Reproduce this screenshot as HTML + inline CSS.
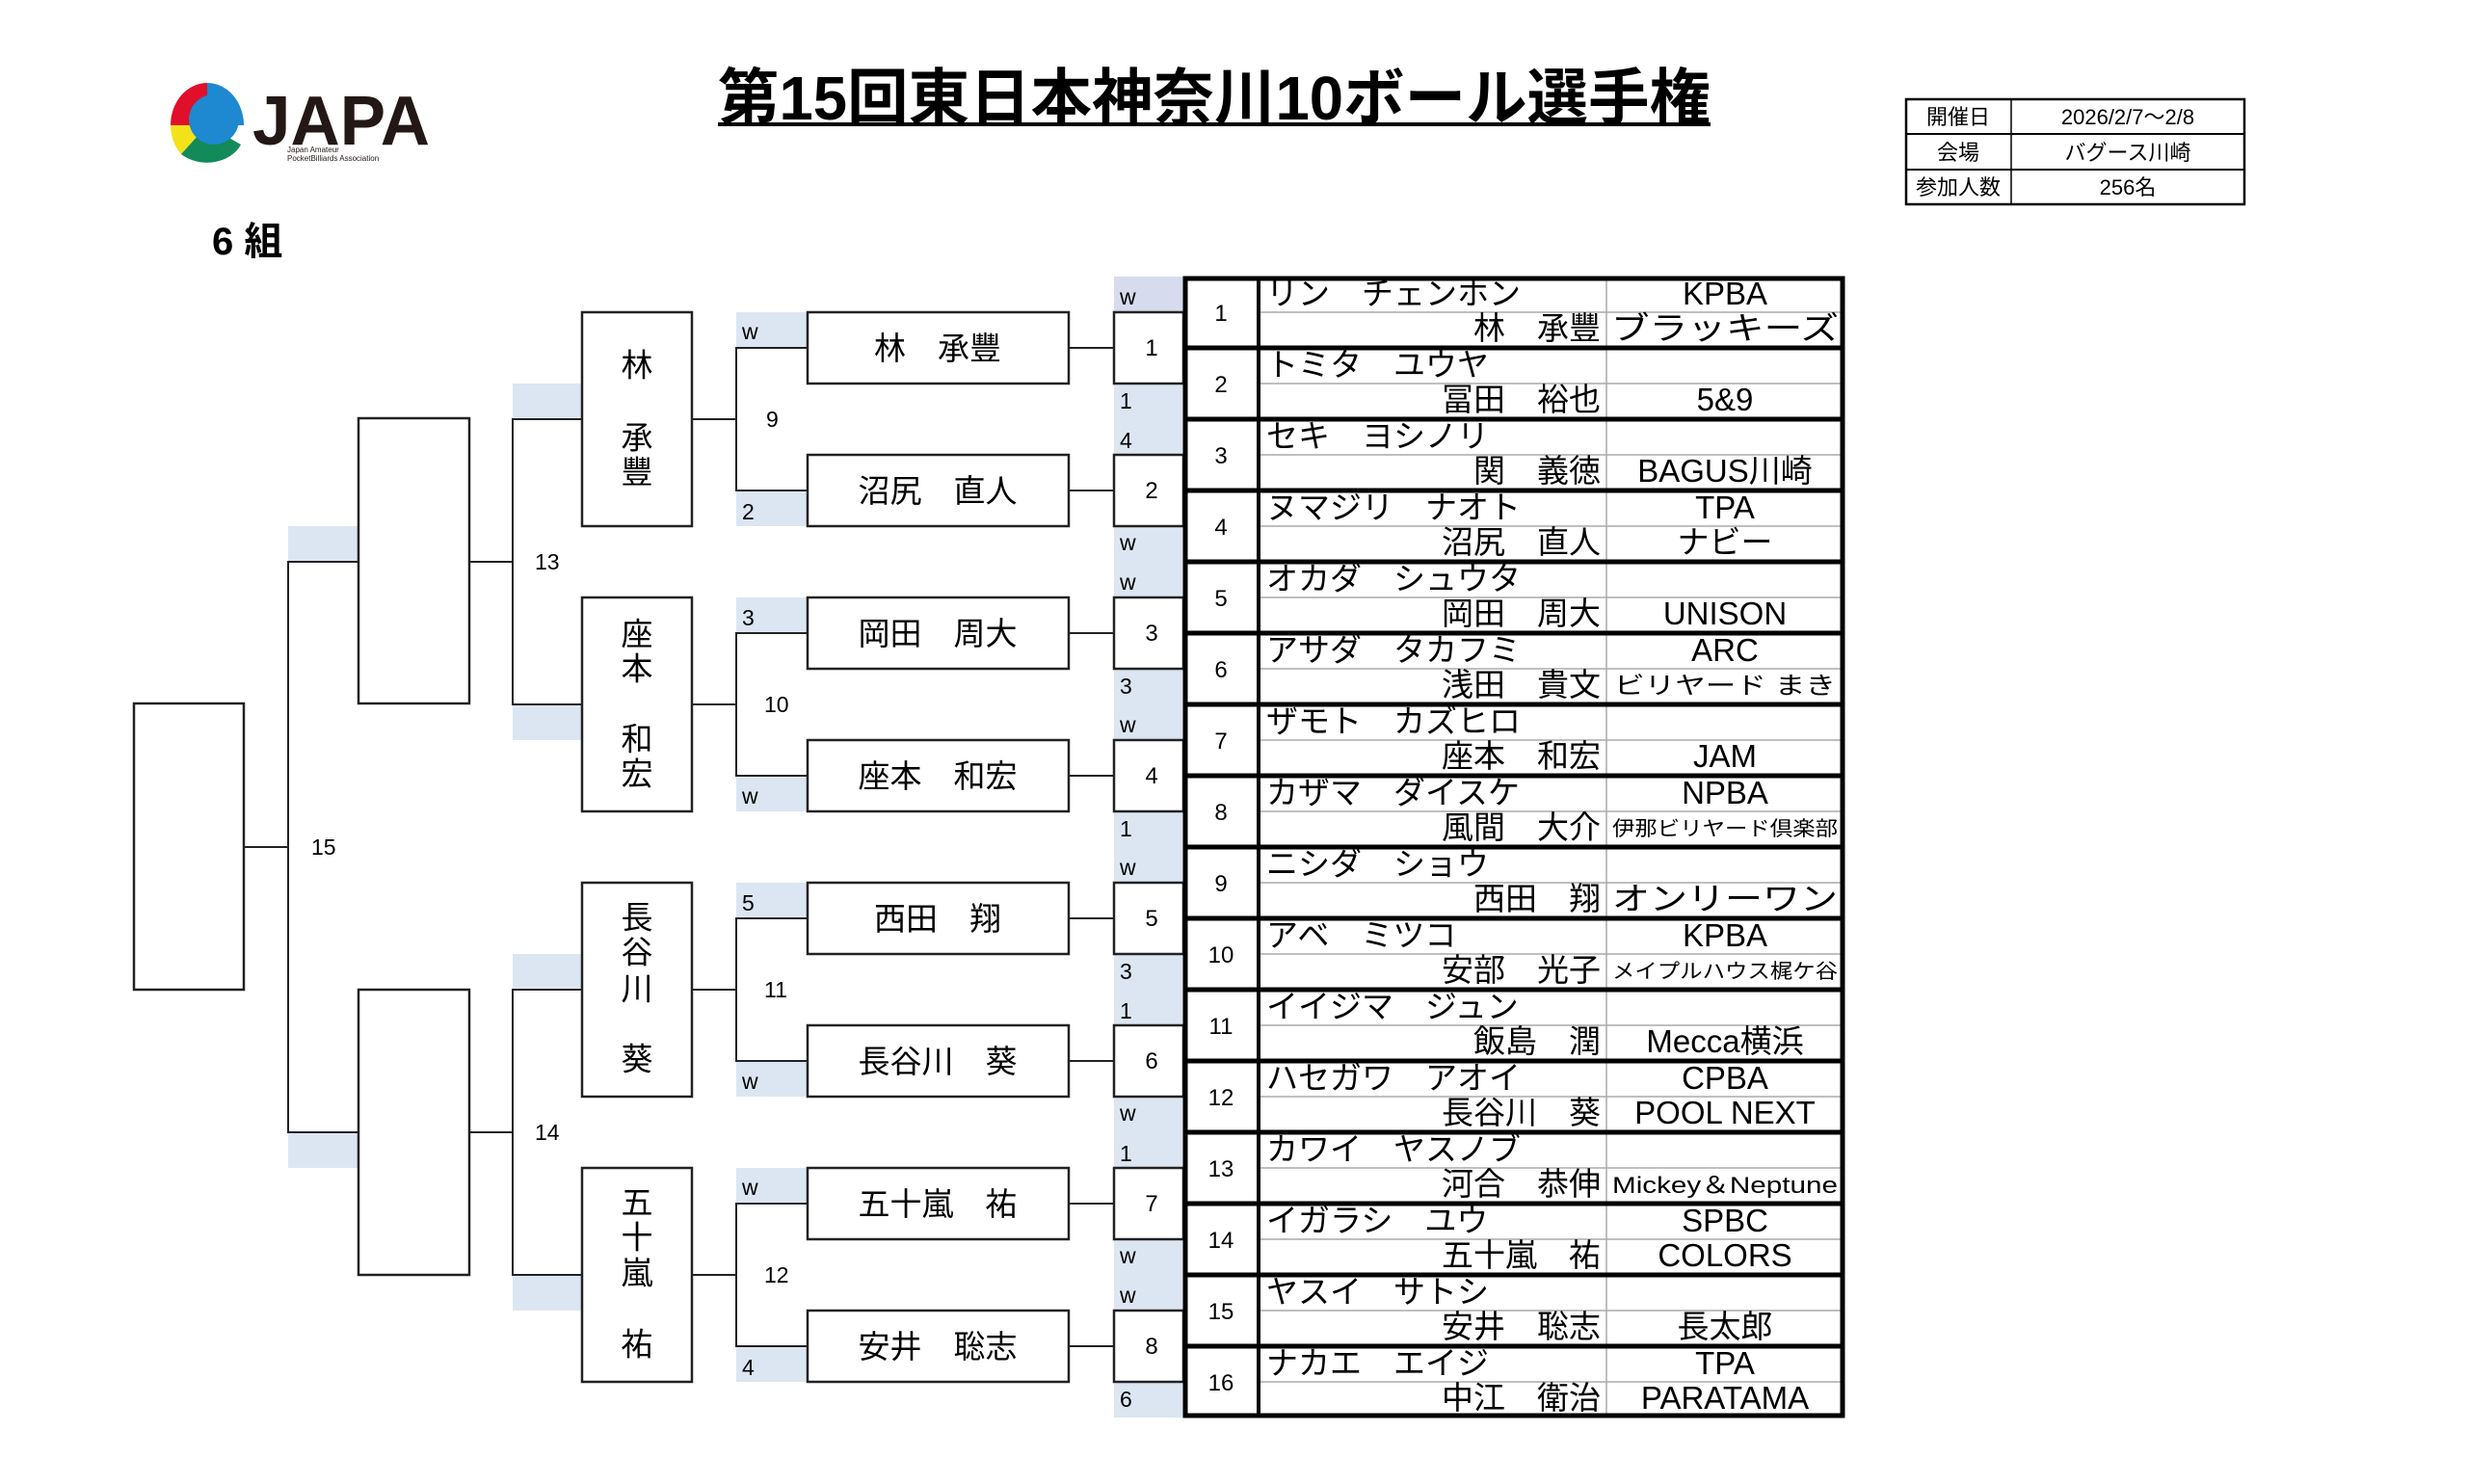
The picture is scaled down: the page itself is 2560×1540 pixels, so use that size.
<!DOCTYPE html>
<html><head><meta charset="utf-8"><style>
html,body{margin:0;padding:0;background:#fff;}
svg{display:block;font-family:"Liberation Sans","Noto Sans CJK JP",sans-serif;}
</style></head><body>
<svg width="2560" height="1540" viewBox="0 0 2560 1540" xmlns="http://www.w3.org/2000/svg">
<g>
<path d="M215,86 A38,44 0 0 1 253,130 L215,130 Z" fill="#1e88d0"/>
<path d="M215,86 A38,44 0 0 0 177,130 L215,130 Z" fill="#e0102a"/>
<path d="M177,130 A38,44 0 0 0 188,160 L215,130 Z" fill="#f2e21a"/>
<path d="M188,160 A38,30 0 0 0 250,150 L215,130 Z" fill="#138a5a"/>
<circle cx="222" cy="124" r="26" fill="#1e88d0"/>
<text x="262" y="150" font-size="72" font-weight="bold" fill="#231815" textLength="184" lengthAdjust="spacingAndGlyphs">JAPA</text>
<text x="298" y="158" font-size="8" fill="#231815">Japan Amateur</text>
<text x="298" y="167" font-size="8" fill="#231815">PocketBilliards Association</text>
</g>
<text x="745" y="124" font-size="64" font-weight="bold" textLength="1030" lengthAdjust="spacingAndGlyphs">第15回東日本神奈川10ボール選手権</text>
<rect x="745" y="127" width="1030" height="4" fill="#000"/>
<g stroke="#000" fill="none">
<rect x="1978" y="103" width="351" height="109" stroke-width="2.5"/>
<line x1="2087" y1="103" x2="2087" y2="212" stroke-width="1.5"/>
<line x1="1978" y1="139" x2="2329" y2="139" stroke-width="2"/>
<line x1="1978" y1="176" x2="2329" y2="176" stroke-width="2"/>
</g>
<g font-size="22" text-anchor="middle">
<text x="2032" y="129">開催日</text>
<text x="2208" y="129">2026/2/7～2/8</text>
<text x="2032" y="166">会場</text>
<text x="2208" y="166">バグース川崎</text>
<text x="2032" y="202">参加人数</text>
<text x="2208" y="202">256名</text>
</g>
<text x="220" y="264" font-size="40" font-weight="bold">6 組</text>

<rect x="1156" y="287" width="72" height="1184" fill="#dce6f2"/>
<rect x="1156" y="287" width="72" height="37" fill="#d6dcee"/>
<g fill="#dce6f2">
<rect x="764" y="324" width="74" height="37"/>
<rect x="764" y="509" width="74" height="37"/>
<rect x="764" y="620" width="74" height="37"/>
<rect x="764" y="805" width="74" height="37"/>
<rect x="764" y="916" width="74" height="37"/>
<rect x="764" y="1101" width="74" height="37"/>
<rect x="764" y="1212" width="74" height="37"/>
<rect x="764" y="1397" width="74" height="37"/>
<rect x="532" y="398" width="72" height="37"/>
<rect x="532" y="731" width="72" height="37"/>
<rect x="532" y="990" width="72" height="37"/>
<rect x="532" y="1323" width="72" height="37"/>
<rect x="299" y="546" width="73" height="37"/>
<rect x="299" y="1175" width="73" height="37"/>
</g>

<g stroke="#222" stroke-width="2.5" fill="#fff">
<rect x="1156" y="324" width="72" height="74"/>
<rect x="1156" y="472" width="72" height="74"/>
<rect x="1156" y="620" width="72" height="74"/>
<rect x="1156" y="768" width="72" height="74"/>
<rect x="1156" y="916" width="72" height="74"/>
<rect x="1156" y="1064" width="72" height="74"/>
<rect x="1156" y="1212" width="72" height="74"/>
<rect x="1156" y="1360" width="72" height="74"/>
<rect x="838" y="324" width="271" height="74"/>
<rect x="838" y="472" width="271" height="74"/>
<rect x="838" y="620" width="271" height="74"/>
<rect x="838" y="768" width="271" height="74"/>
<rect x="838" y="916" width="271" height="74"/>
<rect x="838" y="1064" width="271" height="74"/>
<rect x="838" y="1212" width="271" height="74"/>
<rect x="838" y="1360" width="271" height="74"/>
<rect x="604" y="324" width="114" height="222"/>
<rect x="604" y="620" width="114" height="222"/>
<rect x="604" y="916" width="114" height="222"/>
<rect x="604" y="1212" width="114" height="222"/>
<rect x="372" y="434" width="115" height="296"/>
<rect x="372" y="1027" width="115" height="296"/>
<rect x="139" y="730" width="114" height="297"/>
</g>
<g stroke="#222" stroke-width="2" fill="none">
<path d="M1109,361H1156M1109,509H1156M1109,657H1156M1109,805H1156M1109,953H1156M1109,1101H1156M1109,1249H1156M1109,1397H1156"/>
<path d="M838,361H764V509H838M764,435H718"/>
<path d="M838,657H764V805H838M764,731H718"/>
<path d="M838,953H764V1101H838M764,1027H718"/>
<path d="M838,1249H764V1397H838M764,1323H718"/>
<path d="M604,435H532V731H604M532,583H487"/>
<path d="M604,1027H532V1323H604M532,1175H487"/>
<path d="M372,583H299V1175H372M299,879H253"/>
</g>

<g font-size="23" fill="#000">
<text x="1162" y="316">w</text>
<text x="1162" y="424">1</text>
<text x="1162" y="465">4</text>
<text x="1162" y="571">w</text>
<text x="1162" y="612">w</text>
<text x="1162" y="720">3</text>
<text x="1162" y="760">w</text>
<text x="1162" y="868">1</text>
<text x="1162" y="908">w</text>
<text x="1162" y="1016">3</text>
<text x="1162" y="1057">1</text>
<text x="1162" y="1163">w</text>
<text x="1162" y="1205">1</text>
<text x="1162" y="1311">w</text>
<text x="1162" y="1352">w</text>
<text x="1162" y="1460">6</text>
<text x="770" y="352">w</text>
<text x="770" y="539">2</text>
<text x="770" y="649">3</text>
<text x="770" y="834">w</text>
<text x="770" y="945">5</text>
<text x="770" y="1130">w</text>
<text x="770" y="1240">w</text>
<text x="770" y="1427">4</text>
</g>
<g font-size="23" fill="#000">
<text x="795" y="443">9</text>
<text x="793" y="739">10</text>
<text x="793" y="1035">11</text>
<text x="793" y="1331">12</text>
<text x="555" y="591">13</text>
<text x="555" y="1183">14</text>
<text x="323" y="887">15</text>
</g>
<g font-size="24" text-anchor="middle">
<text x="1195" y="369">1</text><text x="1195" y="517">2</text><text x="1195" y="665">3</text><text x="1195" y="813">4</text>
<text x="1195" y="961">5</text><text x="1195" y="1109">6</text><text x="1195" y="1257">7</text><text x="1195" y="1405">8</text>
</g>
<g font-size="33" text-anchor="middle" xml:space="preserve">
<text x="973" y="373">林　承豐</text>
<text x="973" y="521">沼尻　直人</text>
<text x="973" y="669">岡田　周大</text>
<text x="973" y="817">座本　和宏</text>
<text x="973" y="965">西田　翔</text>
<text x="973" y="1113">長谷川　葵</text>
<text x="973" y="1261">五十嵐　祐</text>
<text x="973" y="1409">安井　聡志</text>
</g>
<g font-size="33" text-anchor="middle" dominant-baseline="central">
<text x="661" y="379">林</text><text x="661" y="454">承</text><text x="661" y="490">豐</text>
<text x="661" y="658">座</text><text x="661" y="694">本</text><text x="661" y="767">和</text><text x="661" y="803">宏</text>
<text x="661" y="952">長</text><text x="661" y="988">谷</text><text x="661" y="1026">川</text><text x="661" y="1099">葵</text>
<text x="661" y="1248">五</text><text x="661" y="1284">十</text><text x="661" y="1321">嵐</text><text x="661" y="1395">祐</text>
</g>

<g stroke="#aaa" stroke-width="1.5">
<line x1="1306" y1="324" x2="1914" y2="324"/><line x1="1306" y1="398" x2="1914" y2="398"/>
<line x1="1306" y1="472" x2="1914" y2="472"/><line x1="1306" y1="546" x2="1914" y2="546"/>
<line x1="1306" y1="620" x2="1914" y2="620"/><line x1="1306" y1="694" x2="1914" y2="694"/>
<line x1="1306" y1="768" x2="1914" y2="768"/><line x1="1306" y1="842" x2="1914" y2="842"/>
<line x1="1306" y1="916" x2="1914" y2="916"/><line x1="1306" y1="990" x2="1914" y2="990"/>
<line x1="1306" y1="1064" x2="1914" y2="1064"/><line x1="1306" y1="1138" x2="1914" y2="1138"/>
<line x1="1306" y1="1212" x2="1914" y2="1212"/><line x1="1306" y1="1286" x2="1914" y2="1286"/>
<line x1="1306" y1="1360" x2="1914" y2="1360"/><line x1="1306" y1="1434" x2="1914" y2="1434"/>
<line x1="1667" y1="287" x2="1667" y2="1471"/>
</g>
<g stroke="#000" stroke-width="5" fill="none">
<rect x="1230" y="289" width="682" height="1180"/>
<line x1="1306" y1="287" x2="1306" y2="1471" stroke-width="4"/>
<path d="M1228,361H1914M1228,435H1914M1228,509H1914M1228,583H1914M1228,657H1914M1228,731H1914M1228,805H1914M1228,879H1914M1228,953H1914M1228,1027H1914M1228,1101H1914M1228,1175H1914M1228,1249H1914M1228,1323H1914M1228,1397H1914"/>
</g>
<g font-size="24" text-anchor="middle">
<text x="1267" y="333">1</text><text x="1267" y="407">2</text><text x="1267" y="481">3</text><text x="1267" y="555">4</text>
<text x="1267" y="629">5</text><text x="1267" y="703">6</text><text x="1267" y="777">7</text><text x="1267" y="851">8</text>
<text x="1267" y="925">9</text><text x="1267" y="999">10</text><text x="1267" y="1073">11</text><text x="1267" y="1147">12</text>
<text x="1267" y="1221">13</text><text x="1267" y="1295">14</text><text x="1267" y="1369">15</text><text x="1267" y="1443">16</text>
</g>
<g font-size="33" xml:space="preserve">
<text x="1314" y="316">リン　チェンホン</text>
<text x="1314" y="390">トミタ　ユウヤ</text>
<text x="1314" y="464">セキ　ヨシノリ</text>
<text x="1314" y="538">ヌマジリ　ナオト</text>
<text x="1314" y="612">オカダ　シュウタ</text>
<text x="1314" y="686">アサダ　タカフミ</text>
<text x="1314" y="760">ザモト　カズヒロ</text>
<text x="1314" y="834">カザマ　ダイスケ</text>
<text x="1314" y="908">ニシダ　ショウ</text>
<text x="1314" y="982">アベ　ミツコ</text>
<text x="1314" y="1056">イイジマ　ジュン</text>
<text x="1314" y="1130">ハセガワ　アオイ</text>
<text x="1314" y="1204">カワイ　ヤスノブ</text>
<text x="1314" y="1278">イガラシ　ユウ</text>
<text x="1314" y="1352">ヤスイ　サトシ</text>
<text x="1314" y="1426">ナカエ　エイジ</text>
</g>
<g font-size="33" text-anchor="end" xml:space="preserve">
<text x="1661" y="352">林　承豐</text>
<text x="1661" y="426">冨田　裕也</text>
<text x="1661" y="500">関　義徳</text>
<text x="1661" y="574">沼尻　直人</text>
<text x="1661" y="648">岡田　周大</text>
<text x="1661" y="722">浅田　貴文</text>
<text x="1661" y="796">座本　和宏</text>
<text x="1661" y="870">風間　大介</text>
<text x="1661" y="944">西田　翔</text>
<text x="1661" y="1018">安部　光子</text>
<text x="1661" y="1092">飯島　潤</text>
<text x="1661" y="1166">長谷川　葵</text>
<text x="1661" y="1240">河合　恭伸</text>
<text x="1661" y="1314">五十嵐　祐</text>
<text x="1661" y="1388">安井　聡志</text>
<text x="1661" y="1462">中江　衛治</text>
</g>
<g font-size="33" text-anchor="middle">
<text x="1790" y="316">KPBA</text>
<text x="1790" y="352" textLength="236" lengthAdjust="spacingAndGlyphs">ブラッキーズ</text>
<text x="1790" y="426">5&amp;9</text>
<text x="1790" y="500">BAGUS川崎</text>
<text x="1790" y="538">TPA</text>
<text x="1790" y="574">ナビー</text>
<text x="1790" y="648">UNISON</text>
<text x="1790" y="686">ARC</text>
<text x="1790" y="720" font-size="25" textLength="230" lengthAdjust="spacingAndGlyphs">ビリヤード まき</text>
<text x="1790" y="796">JAM</text>
<text x="1790" y="834">NPBA</text>
<text x="1790" y="867" font-size="21" textLength="234" lengthAdjust="spacingAndGlyphs">伊那ビリヤード倶楽部</text>
<text x="1790" y="944" textLength="234" lengthAdjust="spacingAndGlyphs">オンリーワン</text>
<text x="1790" y="982">KPBA</text>
<text x="1790" y="1015" font-size="21" textLength="234" lengthAdjust="spacingAndGlyphs">メイプルハウス梶ケ谷</text>
<text x="1790" y="1092">Mecca横浜</text>
<text x="1790" y="1130">CPBA</text>
<text x="1790" y="1166">POOL NEXT</text>
<text x="1790" y="1238" font-size="24" textLength="234" lengthAdjust="spacingAndGlyphs">Mickey＆Neptune</text>
<text x="1790" y="1278">SPBC</text>
<text x="1790" y="1314">COLORS</text>
<text x="1790" y="1388">長太郎</text>
<text x="1790" y="1426">TPA</text>
<text x="1790" y="1462">PARATAMA</text>
</g>
</svg>
</body></html>
